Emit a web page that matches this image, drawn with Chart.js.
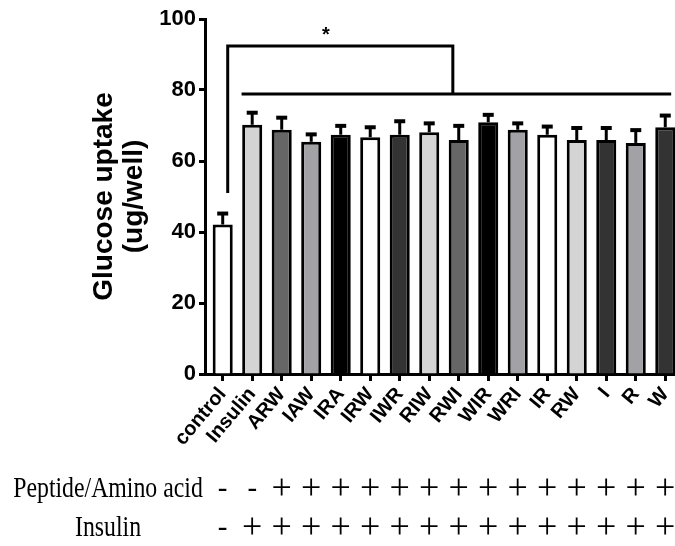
<!DOCTYPE html>
<html>
<head>
<meta charset="utf-8">
<script src="https://cdn.jsdelivr.net/npm/chart.js@4.4.1/dist/chart.umd.min.js"></script>
<style>
  html, body { margin: 0; padding: 0; background: #fff; overflow: hidden; }
  #wrap { width: 675px; height: 546px; }
</style>
</head>
<body>
<div id="wrap"><canvas id="c" width="675" height="546"></canvas></div>
<script>
// Glucose uptake per well for each treatment group
const categories = ['control', 'Insulin', 'ARW', 'IAW', 'IRA', 'IRW', 'IWR', 'RIW',
                    'RWI', 'WIR', 'WRI', 'IR', 'RW', 'I', 'R', 'W'];
const uptake = [42.1, 70.2, 68.8, 65.4, 67.4, 66.7, 67.4, 68.1,
                65.9, 70.9, 68.8, 67.4, 65.9, 65.9, 65.1, 69.5];
const sem = [3.1, 3.4, 3.4, 2.1, 2.5, 2.8, 3.8, 2.5,
             4.0, 2.1, 1.8, 2.3, 3.4, 3.4, 3.6, 3.3];
const fills = ['#ffffff', '#d4d4d4', '#666666', '#a2a2a6', '#000000', '#ffffff', '#333333', '#d4d4d4',
               '#666666', '#000000', '#a2a2a6', '#ffffff', '#d4d4d4', '#333333', '#a2a2a6', '#333333'];
const yTicks = [0, 20, 40, 60, 80, 100];

// Treatment table under the axis
const peptideRow = ['-', '-', '+', '+', '+', '+', '+', '+', '+', '+', '+', '+', '+', '+', '+', '+'];
const insulinRow = ['-', '+', '+', '+', '+', '+', '+', '+', '+', '+', '+', '+', '+', '+', '+', '+'];
const rowLabels = ['Peptide/Amino acid', 'Insulin'];

// Significance bracket (x in category units, y in data units)
const bracketLeftX = 0.17, bracketRightX = 7.8, bracketTopY = 92.4, bracketLeftBottomY = 51;
const barLineFromX = 0.64, barLineToX = 15.2, barLineY = 78.9;
const starX = 3.5, starY = 96.5;

const SANS = "'Liberation Sans', Arial, sans-serif";
const SERIF = "'Liberation Serif', 'Times New Roman', serif";

const extras = {
  id: 'extras',
  afterDatasetsDraw(chart) {
    const ctx = chart.ctx;
    const xs = chart.scales.x, ys = chart.scales.y;
    const meta = chart.getDatasetMeta(0);
    ctx.save();
    ctx.strokeStyle = '#000';
    ctx.fillStyle = '#000';
    // upper error bars
    meta.data.forEach((bar, i) => {
      const top = ys.getPixelForValue(uptake[i]);
      const cap = ys.getPixelForValue(uptake[i] + sem[i]);
      ctx.lineWidth = 3;
      ctx.beginPath();
      ctx.moveTo(bar.x, top);
      ctx.lineTo(bar.x, cap);
      ctx.stroke();
      ctx.lineWidth = 4;
      ctx.beginPath();
      ctx.moveTo(bar.x - 5.5, cap);
      ctx.lineTo(bar.x + 5.5, cap);
      ctx.stroke();
    });
    // significance bracket
    ctx.lineWidth = 3;
    ctx.lineCap = 'butt';
    ctx.beginPath();
    ctx.moveTo(xs.getPixelForValue(bracketLeftX), ys.getPixelForValue(bracketLeftBottomY));
    ctx.lineTo(xs.getPixelForValue(bracketLeftX), ys.getPixelForValue(bracketTopY));
    ctx.lineTo(xs.getPixelForValue(bracketRightX), ys.getPixelForValue(bracketTopY));
    ctx.lineTo(xs.getPixelForValue(bracketRightX), ys.getPixelForValue(barLineY));
    ctx.stroke();
    ctx.beginPath();
    ctx.moveTo(xs.getPixelForValue(barLineFromX), ys.getPixelForValue(barLineY));
    ctx.lineTo(xs.getPixelForValue(barLineToX), ys.getPixelForValue(barLineY));
    ctx.stroke();
    ctx.font = 'bold 20px ' + SANS;
    ctx.textAlign = 'center';
    ctx.textBaseline = 'middle';
    ctx.fillText('*', xs.getPixelForValue(starX), ys.getPixelForValue(starY) + 4);

    // treatment table
    const rows = [peptideRow, insulinRow];
    const rowY = [489, 528];
    rows.forEach((row, r) => {
      ctx.save();
      ctx.translate(108, rowY[r]);
      ctx.scale(0.82, 1);
      ctx.font = '29px ' + SERIF;
      ctx.textAlign = 'center';
      ctx.textBaseline = 'middle';
      ctx.fillText(rowLabels[r], 0, 0);
      ctx.restore();
      row.forEach((s, i) => {
        const x = xs.getPixelForValue(i);
        ctx.font = (s === '+' ? '36px ' : '29px ') + SERIF;
        ctx.textAlign = 'center';
        ctx.textBaseline = 'middle';
        ctx.fillText(s, x, rowY[r] + (s === '+' ? 1 : 0));
      });
    });
    ctx.restore();
  }
};

new Chart(document.getElementById('c'), {
  type: 'bar',
  data: {
    datasets: [{
      data: uptake.map((v, i) => ({ x: i, y: v })),
      backgroundColor: fills,
      borderColor: '#000',
      borderWidth: 3,
      borderSkipped: 'bottom',
      barPercentage: 0.68,
      categoryPercentage: 1
    }]
  },
  options: {
    responsive: false,
    devicePixelRatio: 1,
    animation: false,
    layout: { padding: { top: 19, right: 0, bottom: 0, left: 0 } },
    plugins: { legend: { display: false }, tooltip: { enabled: false } },
    scales: {
      x: {
        type: 'linear',
        offset: false,
        min: -0.6,
        max: 15.33,
        grid: { offset: false, drawOnChartArea: false, drawTicks: true, tickLength: 7, tickWidth: 3, tickColor: '#000' },
        border: { display: true, color: '#000', width: 3 },
        ticks: {
          stepSize: 1,
          includeBounds: false,
          autoSkip: false,
          maxRotation: 50,
          minRotation: 50,
          padding: 2,
          color: '#000',
          font: { family: SANS, size: 20, weight: 'bold' },
          callback: (v) => categories[v] ?? ''
        },
        afterFit(scale) { scale.height = 172; scale.paddingLeft = 0; scale.paddingRight = 0; }
      },
      y: {
        min: 0,
        max: 100,
        afterBuildTicks(scale) { scale.ticks = yTicks.map(v => ({ value: v })); },
        grid: { drawOnChartArea: false, drawTicks: true, tickLength: 6, tickWidth: 3, tickColor: '#000' },
        border: { display: true, color: '#000', width: 3 },
        ticks: {
          color: '#000',
          padding: 3,
          font: { family: SANS, size: 22, weight: 'bold' }
        },
        title: {
          display: true,
          text: ['Glucose uptake', '(ug/well)'],
          color: '#000',
          font: { family: SANS, size: 28, weight: 'bold', lineHeight: 1.05 },
          padding: { top: 90, bottom: 0 }
        },
        afterFit(scale) { scale.width = 205; scale.paddingTop = 0; scale.paddingBottom = 0; }
      }
    }
  },
  plugins: [extras]
});
</script>
</body>
</html>
